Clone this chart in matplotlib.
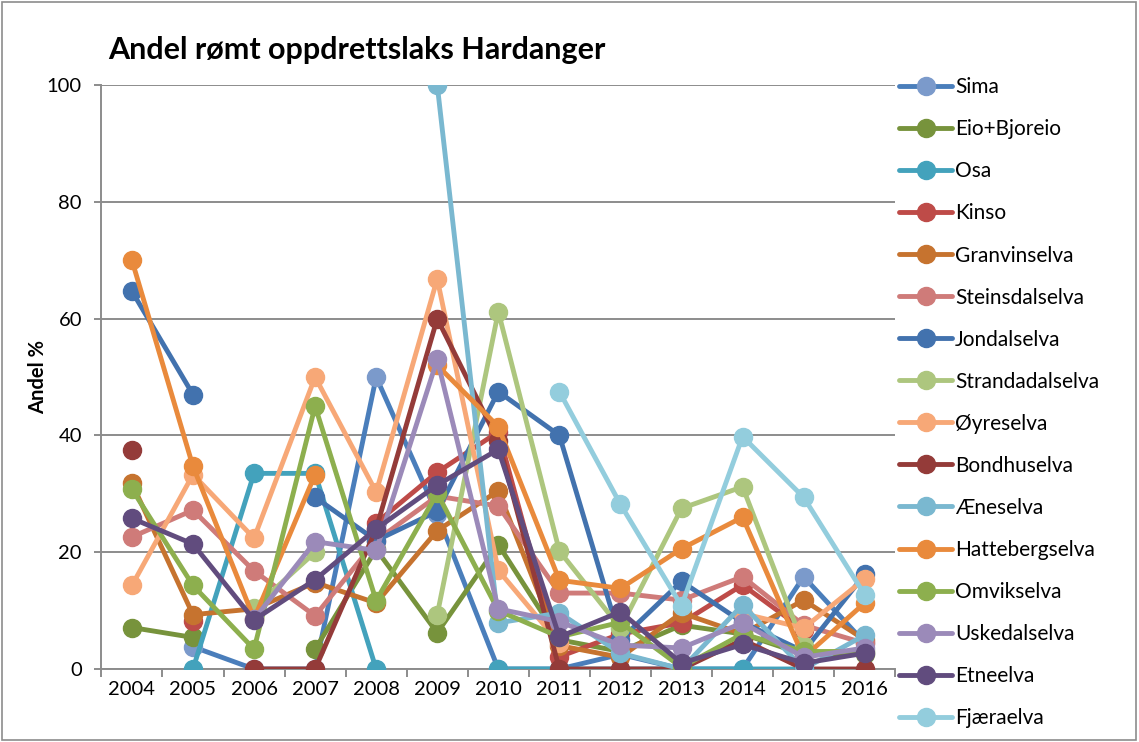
import numpy as np
import matplotlib.pyplot as plt
from matplotlib.patches import Rectangle
from matplotlib.ticker import FixedLocator

# Andel rømt oppdrettslaks i elvene i Hardanger, 2004-2016 (lest av figuren)
aar = ['2004', '2005', '2006', '2007', '2008', '2009', '2010',
       '2011', '2012', '2013', '2014', '2015', '2016']

sima = [None, 3.8, 0, 0, 50, 26.5, 0, 0, 2.5, 0, 0, 15.8, 4.5]
eio_bjoreio = [7.1, 5.4, None, 3.4, 20.5, 6.2, 21.3, 5, 3, 7.5, 6, 2.5, 2.5]
osa = [None, 0, 33.5, 33.5, 0, None, 0, 0, 0, 0, 0, 0, None]
kinso = [None, 8.3, None, None, 25, 33.7, 40.6, 2.1, 6, 7.9, 14.4, 6.7, None]
granvinselva = [31.8, 9.3, 10.3, 14.8, 11.3, 23.7, 30.5, 4, 2, 9.6, 6, 11.8, 5]
steinsdalselva = [22.6, 27.2, 16.8, 9.1, 22, 29.6, 27.9, 13, 13, 11.8, 15.8, 7.5, 4.4]
jondalselva = [64.7, 47, None, 29.4, 22, 27, 47.5, 40, 5, 15, 8, 3, 16.2]
strandadalselva = [None, None, 10.5, 20, None, 9.3, 61.2, 20.2, 7, 27.5, 31.2, 4, None]
oyreselva = [14.3, 33.3, 22.4, 50, 30.3, 66.8, 16.9, 4.4, None, None, 9.5, 7, 15.4]
bondhuselva = [37.5, None, 0, 0, 24, 60, 39, 0, 0, 0, 5, 0, 0]
aeneselva = [None, None, None, None, None, 100, 7.9, 9.6, 2.7, 0, 11, 0, 5.8]
hattebergselva = [70, 34.7, 8.6, 33.3, None, 52, 41.5, 15.2, 13.8, 20.6, 26, 2, 11.3]
omvikselva = [30.8, 14.3, 3.4, 45, 11.7, 30.1, 10, 5.5, 8, 0.3, 6, 3, 3]
uskedalselva = [None, None, 8.5, 21.8, 20.3, 53, 10.3, 8.1, 4.1, 3.6, 7.9, 2, 3.6]
etneelva = [25.8, 21.4, 8.4, 15.3, 24, 31.5, 37.6, 5.5, 9.8, 1, 4.2, 1, 2.7]
fjaeraelva = [None, None, None, None, None, None, None, 47.5, 28.2, 10.8, 39.8, 29.4, 12.7]

elver = ['Sima', 'Eio+Bjoreio', 'Osa', 'Kinso', 'Granvinselva', 'Steinsdalselva',
         'Jondalselva', 'Strandadalselva', 'Øyreselva', 'Bondhuselva', 'Æneselva',
         'Hattebergselva', 'Omvikselva', 'Uskedalselva', 'Etneelva', 'Fjæraelva']
serier = [sima, eio_bjoreio, osa, kinso, granvinselva, steinsdalselva,
          jondalselva, strandadalselva, oyreselva, bondhuselva, aeneselva,
          hattebergselva, omvikselva, uskedalselva, etneelva, fjaeraelva]

farger = ['#4A7EBB', '#77933C', '#43A2BC', '#BE4B48', '#C6732F', '#CF7B79',
          '#4272AE', '#ADC67E', '#F7A877', '#943B39', '#7AB8D0',
          '#E98A3C', '#8DAF4E', '#9B8AB9', '#614C7E', '#93CDDD']
markorfarger = list(farger)
markorfarger[0] = '#7B9ACB'

plt.rcParams['font.family'] = ['Lato', 'DejaVu Sans']

fig = plt.figure(figsize=(11.39, 7.42), dpi=100)
ax = fig.add_axes([0.089, 0.0984, 0.697, 0.787])

for i in range(len(serier)):
    verdier = np.array([np.nan if v is None else v for v in serier[i]], dtype=float)
    ax.plot(aar, verdier, color=farger[i], linewidth=3.5, marker='o', markersize=13,
            markerfacecolor=markorfarger[i], markeredgecolor=markorfarger[i],
            label=elver[i], zorder=3 + i, solid_capstyle='round')

ax.set_xlim(-0.5, len(aar) - 0.5)
ax.set_ylim(0, 100)
ax.set_yticks([0, 20, 40, 60, 80, 100])
ax.grid(axis='y', color='#8C8C8C', linewidth=1.4, zorder=1)
ax.set_axisbelow(True)

ax.xaxis.set_minor_locator(FixedLocator(np.arange(-0.5, len(aar), 1.0)))
ax.tick_params(axis='x', which='major', length=0, pad=9, labelsize=14.5)
ax.tick_params(axis='x', which='minor', length=6, width=1.4, color='#8C8C8C')
ax.tick_params(axis='y', length=5, width=1.4, color='#8C8C8C', pad=9, labelsize=14.5)

for side in ['top', 'right']:
    ax.spines[side].set_visible(False)
for side in ['left', 'bottom']:
    ax.spines[side].set_color('#8C8C8C')
    ax.spines[side].set_linewidth(1.4)

ax.set_ylabel('Andel %', fontsize=14.5, weight='bold', labelpad=-1)
fig.text(108 / 1139, 1 - 50 / 742, 'Andel rømt oppdrettslaks Hardanger',
         fontsize=22, weight='bold', ha='left', va='center')

ax.legend(loc='upper left', bbox_to_anchor=(0.782, 0.907), bbox_transform=fig.transFigure,
          frameon=False, fontsize=15, handlelength=2.55, handletextpad=0.15,
          labelspacing=1.058, borderaxespad=0)

fig.patches.append(Rectangle((0.002, 0.003), 0.995, 0.994, transform=fig.transFigure,
                             fill=False, edgecolor='#8C8C8C', linewidth=1.2))

fig.savefig('out.png', dpi=100)
